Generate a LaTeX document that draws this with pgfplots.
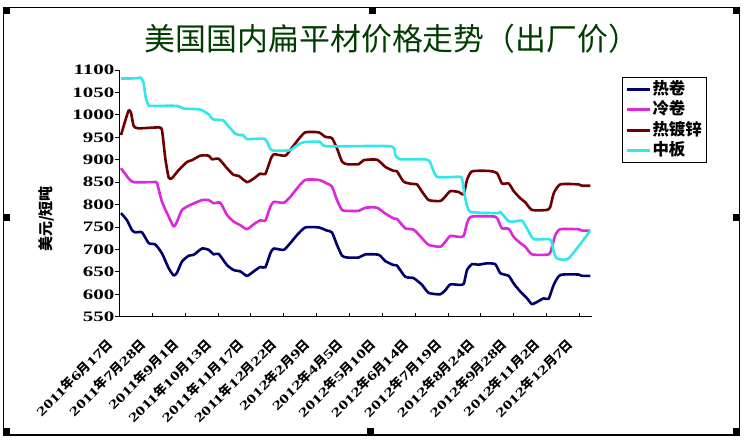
\documentclass[border=0pt]{standalone}
\usepackage{pgfplots}
\pgfplotsset{compat=1.18}
\usepackage{fontspec}
\setmainfont{Liberation Serif}
\newfontfamily\cjk{Noto Sans CJK SC}
\newfontfamily\numf[FakeStretch=1.45]{Liberation Serif}
\definecolor{cNavy}{RGB}{0,0,110}
\definecolor{cMag}{RGB}{220,40,220}
\definecolor{cMar}{RGB}{110,0,0}
\definecolor{cCyan}{RGB}{50,230,235}
\definecolor{cTitle}{RGB}{0,60,0}
\newcommand{\dl}[3]{{\numf\bfseries #1}{\cjk\bfseries 年}{\numf\bfseries #2}{\cjk\bfseries 月}{\numf\bfseries #3}{\cjk\bfseries 日}}
\begin{document}
\begin{tikzpicture}
\useasboundingbox (0,0) rectangle (745bp,-441bp);
\fill[white] (0,0) rectangle (745bp,-441bp);
\draw[black, line width=1.2bp] (3.5bp,-7.5bp) rectangle (739.5bp,-435bp);
\foreach \x/\y in {3/7,369/7,733/7,3/214,733/214,3/428,367/428,733/428}
  \fill[black] (\x bp,-\y bp) rectangle ++(7bp,-7bp);
\node[font=\cjk\fontsize{31}{31}\selectfont, text=cTitle] at (392bp,-39bp) {美国国内扁平材价格走势（出厂价）};
\node[font=\cjk\bfseries\fontsize{15}{15}\selectfont, rotate=90] at (46bp,-219bp) {美元/短吨};
\begin{axis}[
  at={(119.3bp,-316.7bp)}, anchor=south west,
  scale only axis, width=472.4bp, height=246.7bp,
  xmin=119.3, xmax=591.7, ymin=550, ymax=1100,
  axis x line=bottom, axis y line=left,
  axis line style={-, line width=1.2bp, black},
  ytick={550,600,...,1100},
  xtick={119.3,152.2,185.0,217.9,250.7,283.6,316.5,349.3,382.2,415.0,447.9,480.8,513.6,546.5,579.3},
  xticklabels={\dl{2011}{6}{17},\dl{2011}{7}{28},\dl{2011}{9}{1},\dl{2011}{10}{13},\dl{2011}{11}{17},\dl{2011}{12}{22},\dl{2012}{2}{9},\dl{2012}{4}{5},\dl{2012}{5}{10},\dl{2012}{6}{14},\dl{2012}{7}{19},\dl{2012}{8}{24},\dl{2012}{9}{28},\dl{2012}{11}{2},\dl{2012}{12}{7}},
  tick align=inside,
  major tick length=4bp,
  tick style={black, line width=0.8bp},
  ytick style={xshift=-4bp},
  /pgf/number format/.cd, 1000 sep={}, assume math mode=true,
  /pgfplots/.cd,
  yticklabel style={font=\numf\bfseries\fontsize{14.5}{15}\selectfont, anchor=east, inner sep=0pt, xshift=-4.8bp},
  xticklabel style={font=\fontsize{12.8}{13}\selectfont, xshift=-9bp, yshift=-25bp, rotate=45, anchor=east, inner sep=0pt},
  legend style={at={(1.0635,0.9704)}, anchor=north west, draw=black, line width=1bp,
    font=\cjk\bfseries\fontsize{16.5}{17}\selectfont, inner xsep=3bp, inner ysep=1bp, row sep=0pt,
    nodes={inner sep=1.3bp, text height=14bp, text depth=4bp}},
  legend cell align=left,
  legend image code/.code={\draw[#1, line width=3bp] (0bp,0bp) -- (23bp,0bp);},
  every axis plot/.append style={line width=2.6bp, line join=round, smooth, tension=0.35},
]
\addplot[cNavy] coordinates {(121,781) (127,765) (132,743) (135.3,738) (142,738) (148.7,714) (155.3,711) (162,691) (168.7,658) (173.7,642) (177,648) (182,673) (188.7,686) (193.7,688) (202,702) (208.7,699) (213.7,689) (218.7,690) (227,665) (233.7,654) (240.3,651) (247,641) (253.7,651) (260.3,661) (265.3,660) (270.3,691) (273.7,702) (283.7,699) (290.3,714) (297,732) (305.3,749) (318.7,749) (327,742) (332,738) (337,710) (342,686) (347,682) (358.7,682) (365.3,689) (378.7,688) (385.3,674) (393.7,665) (397,664) (405.3,639) (413.7,636) (422,621) (428.7,603) (440.3,600) (445.3,609) (450.3,622) (458.7,621) (463.7,623) (467,654) (472,667) (478.7,666) (487,669) (495.3,667) (500.3,647) (508.7,641) (513.7,624) (520.3,606) (527,591) (532,578) (538.7,585) (543.7,591) (548.7,590) (553.7,621) (560.3,643) (578.7,644) (582,641) (590.3,641)};
\addlegendentry{热卷}
\addplot[cMag] coordinates {(121,881) (128.7,858) (133.7,850) (153.7,850) (157,848) (162,806) (168.7,773) (173.7,751) (177,762) (182,788) (190.3,799) (202,810) (208.7,810) (213.7,803) (220.3,804) (227,777) (233.7,762) (240.3,754) (247,745) (253.7,756) (260.3,765) (265.3,764) (270.3,795) (273.7,806) (283.7,804) (290.3,817) (297,836) (305.3,855) (318.7,855) (327,847) (332,840) (337,810) (342,788) (347,786) (358.7,786) (365.3,793) (377,793) (385.3,780) (393.7,769) (397,768) (405.3,747) (413.7,744) (422,725) (428.7,710) (440.3,706) (445.3,717) (450.3,730) (458.7,728) (463.7,730) (467,758) (471.3,773) (495.3,773) (498.7,762) (502,747) (508.7,746) (513.7,728) (520.3,714) (525.3,706) (532,689) (548.7,689) (552,706) (555.3,732) (560.3,745) (578.7,745) (582,742) (590.3,742)};
\addlegendentry{冷卷}
\addplot[cMar] coordinates {(121,955) (125,985) (128.7,1010) (131,1005) (133.7,975) (138.7,970) (158.7,972) (162,966) (165.3,903) (168.7,860) (172,859) (178.7,877) (187,895) (192,899) (200.3,909) (208.7,909) (212,901) (218.7,902) (227,881) (233.7,866) (238.7,864) (247,850) (253.7,858) (260.3,869) (265.3,868) (270.3,899) (273.7,912) (285.3,909) (292,927) (298.7,946) (305.3,961) (318.7,961) (325.3,951) (332,948) (337,925) (342,896) (347,890) (358.7,890) (363.7,899) (377,900) (385.3,884) (393.7,875) (397,874) (403.7,851) (412,846) (417,845) (422,829) (428.7,810) (440.3,808) (445.3,818) (450.3,830) (458.7,828) (463.7,823) (467,855) (472,874) (488.7,875) (497,870) (502,847) (508.7,847) (513.7,830) (520.3,814) (525.3,805) (532,788) (547,788) (550.3,795) (553.7,825) (560.3,845) (578.7,845) (582,842) (590.3,842)};
\addlegendentry{热镀锌}
\addplot[cCyan] coordinates {(121,1081) (130,1081) (138,1082) (141,1083) (143.7,1070) (146,1035) (148.7,1021) (152,1020) (177,1020) (183.7,1014) (200,1012) (208.7,1001) (213,990) (223,988) (227,978) (232,966) (235,958) (240,955) (243,955) (247,946) (263.7,947) (267,940) (272,921) (290,921) (295,929) (303.7,939) (320,940) (327,930) (390,930) (395.3,911) (400,901) (425,901) (430,895) (437,862) (458.7,862) (462,858) (465.3,814) (470.3,784) (498.7,781) (500,784) (508.7,763) (513.7,762) (522,764) (527,747) (533.7,723) (550.3,722) (553.7,695) (557,680) (568.7,680) (590.3,742)};
\addlegendentry{中板}
\end{axis}
\end{tikzpicture}
\end{document}
